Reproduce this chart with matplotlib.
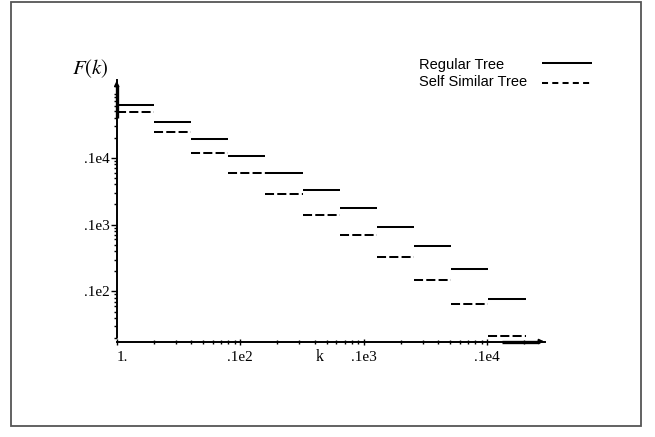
import matplotlib
matplotlib.use("Agg")
import matplotlib.pyplot as plt
from matplotlib.ticker import LogLocator, NullFormatter, FixedLocator, FixedFormatter

# step edges in k and the level of F(k) on each step
k_edges = [1, 2, 4, 8, 16, 32, 64, 128, 256, 512, 1024, 2048]
regular_tree = [6240, 3470, 1910, 1075, 592, 326, 177, 93, 48, 22, 7.8]
self_similar_tree = [4850, 2410, 1200, 592, 290, 141, 70, 33, 15, 6.5, 2.15]

x_ticks = [1, 10, 100, 1000]
x_ticklabels = ["1.", ".1e2", ".1e3", ".1e4"]
y_ticks = [10, 100, 1000]
y_ticklabels = [".1e2", ".1e3", ".1e4"]

W, H = 655, 437
fig = plt.figure(figsize=(W / 100, H / 100), dpi=100)

# plot box in pixels (left/right, bottom/top)
x0, x1 = 116.7, 545.0
y0, y1 = 341.5, 80.0
px_per_dec_x = 123.5
px_per_dec_y = 66.8
y_at_1000 = 157.8

ax = fig.add_axes([x0 / W, 1 - y0 / H, (x1 - x0) / W, (y0 - y1) / H])
ax.set_xscale("log")
ax.set_yscale("log")
ax.set_xlim(1, 10 ** ((x1 - x0) / px_per_dec_x))
ytop = 10 ** (3 + (y_at_1000 - y1) / px_per_dec_y)
ax.set_ylim(10 ** (3 - (y0 - y_at_1000) / px_per_dec_y), ytop)
ax.patch.set_visible(False)

for i in range(len(regular_tree)):
    ax.plot(k_edges[i:i + 2], [regular_tree[i]] * 2, color="k", lw=1.45,
            solid_capstyle="butt")
    ax.plot(k_edges[i:i + 2], [self_similar_tree[i]] * 2, color="k", lw=1.45,
            linestyle=(0, (4.5, 1.6)), dash_capstyle="butt")

for side in ("top", "right"):
    ax.spines[side].set_visible(False)
ax.spines["left"].set_linewidth(1.4)
ax.spines["bottom"].set_linewidth(1.4)
ax.spines["left"].set_bounds(2.1, ytop)

serif = "Liberation Serif"
ax.xaxis.set_major_locator(FixedLocator(x_ticks))
ax.xaxis.set_major_formatter(FixedFormatter(x_ticklabels))
ax.xaxis.set_minor_locator(LogLocator(base=10, subs=range(2, 10)))
ax.xaxis.set_minor_formatter(NullFormatter())
ax.yaxis.set_major_locator(FixedLocator(y_ticks))
ax.yaxis.set_major_formatter(FixedFormatter(y_ticklabels))
ax.yaxis.set_minor_locator(LogLocator(base=10, subs=range(2, 10)))
ax.yaxis.set_minor_formatter(NullFormatter())

ax.tick_params(axis="x", which="major", direction="inout", length=5, width=1,
               pad=4, labelsize=11)
ax.tick_params(axis="x", which="minor", direction="inout", length=3, width=1)
ax.tick_params(axis="y", which="major", direction="out", length=4, width=1,
               pad=1, labelsize=11)
ax.tick_params(axis="y", which="minor", direction="out", length=2.5, width=1)
for lbl in ax.get_xticklabels() + ax.get_yticklabels():
    lbl.set_fontfamily(serif)
ax.get_xticklabels()[0].set_horizontalalignment("left")

# overlay in pixel coordinates for frame, arrows, titles and legend
ov = fig.add_axes([0, 0, 1, 1])
ov.set_xlim(0, W)
ov.set_ylim(H, 0)
ov.axis("off")
ov.patch.set_visible(False)

ov.add_patch(plt.Rectangle((11, 2), 630, 424, fill=False, edgecolor="#555555", lw=1.3))

# axis arrows (thicker shaft near the tip)
ov.plot([x0, x0], [118, 86], color="k", lw=2.4, solid_capstyle="butt")
ov.annotate("", xy=(x0, 78), xytext=(x0, 90),
            arrowprops=dict(arrowstyle="-|>", color="k", lw=1.2, mutation_scale=7))
ov.plot([502, x1 - 6], [y0, y0], color="k", lw=2.4, solid_capstyle="butt")
ov.annotate("", xy=(x1 + 2, y0), xytext=(x1 - 10, y0),
            arrowprops=dict(arrowstyle="-|>", color="k", lw=1.2, mutation_scale=7))

ov.text(90.3, 68.3, r"$F(k)$", fontsize=15, ha="center", va="center",
        math_fontfamily="stix")
ov.text(320, 357, "k", fontsize=11.5, ha="center", va="center", family=serif)

sans = "Liberation Sans"
ov.text(419, 65, "Regular Tree", fontsize=10.5, ha="left", va="center", family=sans)
ov.text(419, 82.3, "Self Similar Tree", fontsize=10.5, ha="left", va="center", family=sans)
ov.plot([541.7, 592.3], [63.3, 63.3], color="k", lw=1.45, solid_capstyle="butt")
ov.plot([541.7, 590], [83.3, 83.3], color="k", lw=1.45, linestyle=(0, (3, 2.1)),
        dash_capstyle="butt")

fig.savefig("out.png", dpi=100)
